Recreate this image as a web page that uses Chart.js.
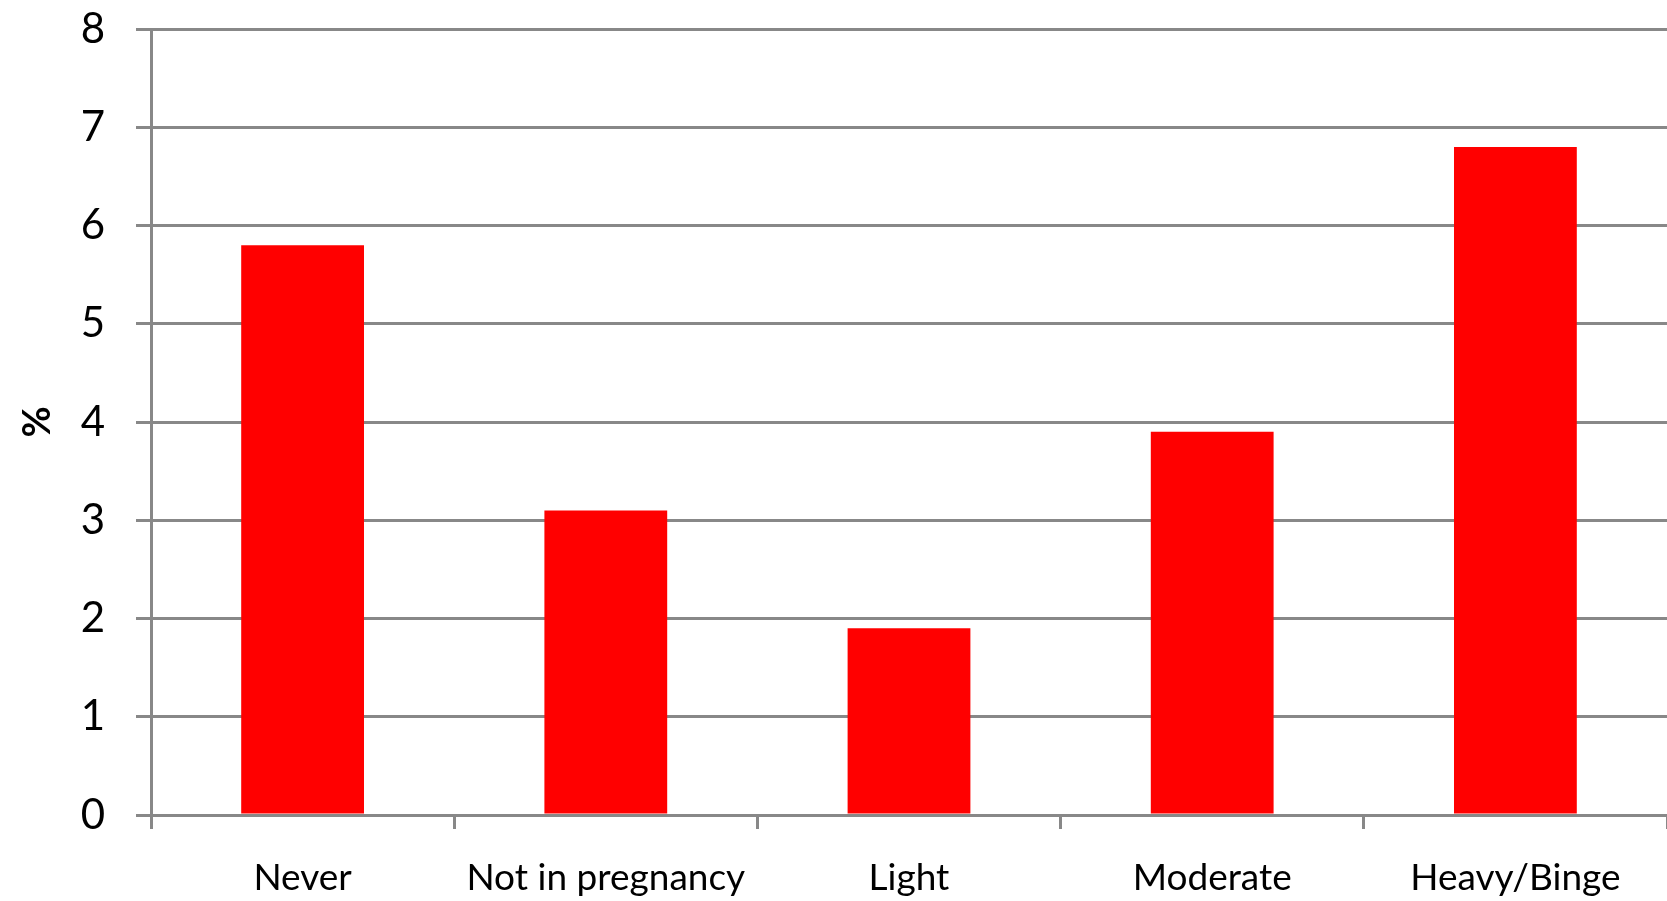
<!DOCTYPE html>
<html>
<head>
<meta charset="utf-8">
<script src="https://cdn.jsdelivr.net/npm/chart.js@4/dist/chart.umd.min.js"></script>
<style>
  html, body { margin: 0; padding: 0; background: #fff; }
  #wrap { width: 1667px; height: 901px; }
</style>
</head>
<body>
<div id="wrap"><canvas id="barChart"></canvas></div>
<script>
// values
const categories = ["Never", "Not in pregnancy", "Light", "Moderate", "Heavy/Binge"];
const percentValues = [5.8, 3.1, 1.9, 3.9, 6.8];
const yTicks = [0, 1, 2, 3, 4, 5, 6, 7, 8];

const gridGray = "rgb(136,136,136)";
const fontFam = "Lato, 'Liberation Sans', Arial, sans-serif";

const ctx = document.getElementById("barChart").getContext("2d");
new Chart(ctx, {
  type: "bar",
  data: {
    labels: categories,
    datasets: [{
      label: "%",
      data: percentValues,
      backgroundColor: "#ff0000",
      borderWidth: 0,
      barPercentage: 0.405,
      categoryPercentage: 1
    }]
  },
  options: {
    responsive: true,
    maintainAspectRatio: false,
    animation: false,
    layout: { padding: { top: 29, right: 0, left: 0, bottom: 0 } },
    plugins: {
      legend: { display: false },
      tooltip: { enabled: false }
    },
    scales: {
      x: {
        grid: { offset: true, drawOnChartArea: false, drawTicks: true, tickLength: 14, color: gridGray, lineWidth: 3 },
        border: { display: true, color: gridGray, width: 3 },
        ticks: {
          color: "#000",
          padding: 27,
          maxRotation: 0,
          font: { family: fontFam, size: 37 }
        },
        afterFit: scale => {
          scale.height = 86;
          scale.paddingLeft = 0;
          scale.paddingRight = 0;
        }
      },
      y: {
        min: 0,
        max: yTicks[yTicks.length - 1],
        afterBuildTicks: scale => { scale.ticks = yTicks.map(v => ({ value: v })); },
        grid: { color: gridGray, lineWidth: 3, tickLength: 15 },
        border: { display: true, color: gridGray, width: 3 },
        ticks: {
          color: "#000",
          padding: 31,
          font: { family: fontFam, size: 42 }
        },
        title: {
          display: true,
          text: "%",
          color: "#000",
          padding: { top: 15, bottom: 0 },
          font: { family: fontFam, size: 38, weight: "bold" }
        },
        afterFit: scale => {
          scale.width = 151;
          scale.paddingTop = 0;
          scale.paddingBottom = 0;
        }
      }
    }
  }
});
</script>
</body>
</html>
